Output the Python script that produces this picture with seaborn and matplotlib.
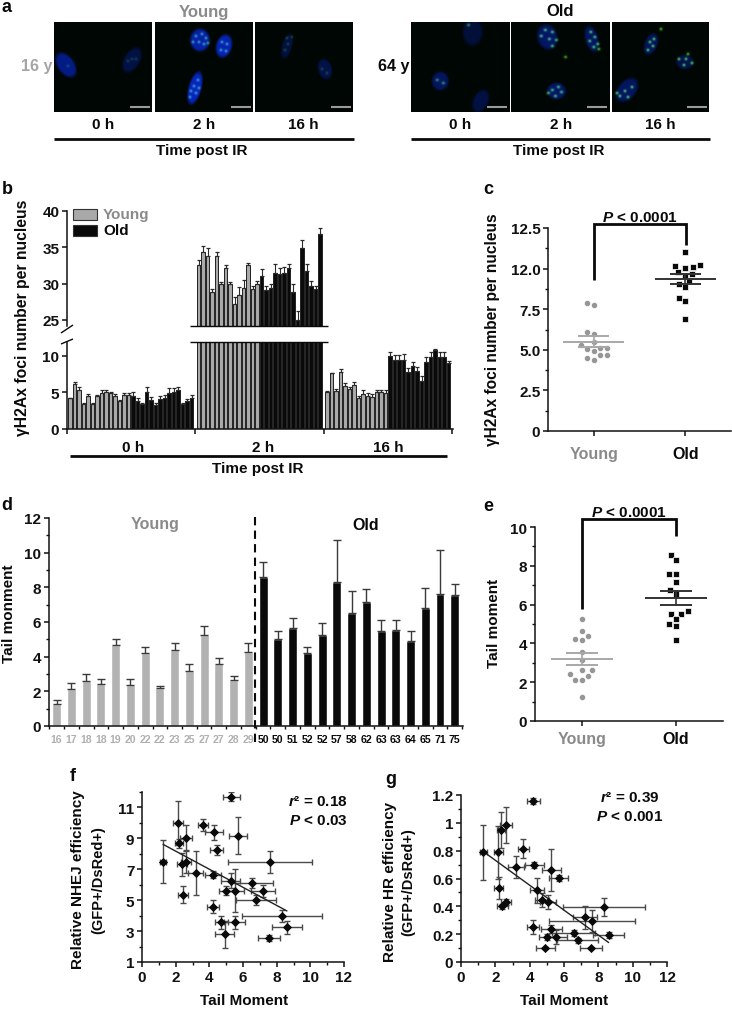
import numpy as np
import pandas as pd
import matplotlib
matplotlib.use("Agg")
import matplotlib.pyplot as plt
from matplotlib.lines import Line2D
from matplotlib.patches import Rectangle
import seaborn as sns

# ---------- data ----------
GROUPS_B = ["Young"] * 14 + ["Old"] * 14
b_0h = [4.2, 6.2, 5.3, 3.4, 4.5, 3.4, 4.5, 4.9, 5.0, 4.9, 4.5, 3.8, 4.7, 4.7,
        4.5, 3.8, 3.4, 5.1, 4.0, 3.3, 4.1, 4.2, 4.9, 5.1, 5.4, 3.4, 3.8, 4.3]
b_0h_err = [.1, .2, .4, .1, .3, .2, .1, .4, .4, .2, .3, .2, .2, .2,
            .5, .4, .2, .6, .4, .2, .4, .5, .7, .5, .3, .2, .3, .4]
b_2h = [32.6, 34.4, 33.8, 28.9, 33.8, 29.9, 32.1, 29.9, 27.2, 28.4, 29.4, 32.5, 29.2, 29.9,
        31.1, 29.1, 29.4, 31.5, 31.3, 31.5, 32.2, 28.9, 25.0, 34.9, 31.7, 29.7, 29.2, 36.9]
b_2h_err = [.6, .8, 1.1, .4, .6, .3, .5, .3, .9, 1.1, 1.1, .3, .5, .5,
            .9, .6, .5, 1.2, .8, .8, .5, 1.0, 1.3, 1.05, 1.0, .7, .5, .7]
b_16h = [5.1, 7.6, 5.2, 7.8, 5.9, 5.5, 6.0, 4.3, 4.8, 4.5, 4.4, 5.0, 5.0, 4.9,
         10.0, 9.5, 9.5, 9.5, 7.8, 8.6, 8.0, 6.6, 9.1, 9.8, 10.8, 9.9, 9.9, 9.0]
b_16h_err = [.05, .05, .3, .4, .4, .2, .4, .2, .5, .4, .4, .4, .4, .4,
             .6, .6, .6, .7, .5, .6, .5, .6, .7, .7, .2, .6, .6, .3]

c_young = [7.87, 7.73, 6.09, 5.98, 5.51, 5.14, 5.06, 5.12, 5.27, 4.9, 4.65, 4.69, 4.5, 4.39]
c_old = [11.05, 10.2, 10.06, 10.1, 10.14, 9.77, 9.67, 9.57, 9.22, 9.04, 8.85, 8.2, 8.03, 6.89]
c_mean = [5.51, 9.36]
c_sem = [0.31, 0.31]

d_ages = [16, 17, 18, 18, 19, 20, 22, 22, 23, 25, 27, 27, 28, 29,
          50, 50, 51, 52, 52, 57, 58, 62, 63, 63, 64, 65, 71, 75]
d_vals = [1.27, 2.13, 2.6, 2.42, 4.67, 2.37, 4.21, 2.17, 4.38, 3.19, 5.27, 3.6, 2.63, 4.25,
          8.58, 5.0, 5.67, 4.21, 5.25, 8.29, 6.54, 7.17, 5.5, 5.52, 4.88, 6.79, 7.62, 7.56]
d_err = [.23, .35, .4, .27, .35, .32, .33, .16, .43, .39, .52, .3, .27, .54,
         .9, .5, .56, .35, .69, 2.44, 1.25, .75, .62, .58, .58, 1.17, 2.55, .63]

e_young = [5.25, 4.66, 4.23, 4.2, 4.37, 3.58, 3.17, 2.62, 2.63, 2.41, 2.34, 2.13, 2.13, 1.26]
e_old = [8.55, 8.28, 7.6, 7.56, 7.16, 6.76, 6.54, 5.65, 5.49, 5.5, 5.25, 4.99, 4.89, 4.2]
e_mean = [3.2, 6.33]
e_sem = [0.32, 0.37]

f_x = [5.3, 2.16, 3.62, 4.28, 2.63, 5.7, 2.2, 4.44, 7.62, 1.25, 2.38, 2.63, 3.19, 4.22,
       5.27, 6.53, 7.19, 5.01, 5.54, 6.77, 2.44, 4.22, 8.32, 4.71, 5.5, 8.61, 4.91, 7.54]
f_y = [11.7, 9.99, 9.86, 9.39, 9.02, 9.17, 8.68, 8.25, 7.45, 7.5, 7.32, 7.5, 6.76, 6.66,
       6.27, 6.12, 5.58, 5.62, 5.62, 5.02, 5.34, 4.59, 3.97, 3.56, 3.56, 3.24, 2.78, 2.57]
f_xerr = [.5, .3, .3, .55, .35, .55, .25, .4, 2.5, .2, .3, .3, .45, .5,
          .55, 1.25, .7, .45, .5, 1.2, .3, .35, 2.4, .4, .6, .9, .55, .65]
f_yerr = [.3, 1.4, .4, .5, .85, 1.2, .3, .3, .7, 1.4, .75, .75, 1.4, .25,
          .5, .3, .4, .3, 1.4, .3, .55, .4, .4, .4, .4, .4, .9, .2]

g_x = [4.22, 2.63, 2.33, 1.3, 2.18, 3.64, 3.21, 4.26, 5.27, 5.68, 2.2, 4.42, 4.71, 5.06,
       2.63, 2.41, 8.33, 7.2, 7.65, 4.2, 5.27, 6.56, 8.6, 5.55, 5.0, 6.79, 4.9, 7.57]
g_y = [1.156, .987, .946, .787, .79, .815, .684, .698, .663, .603, .53, .517, .446, .434,
       .43, .40, .393, .32, .293, .253, .238, .207, .195, .179, .18, .155, .10, .10]
g_xerr = [.4, .35, .25, .2, .25, .3, .45, .55, .55, .55, .25, .4, .4, .45,
          .3, .3, 2.4, .7, 2.5, .35, .6, 1.25, .9, .6, .45, 1.2, .55, .65]
g_yerr = [.02, .13, .13, .2, .19, .07, .08, .02, .15, .02, .08, .09, .05, .05,
          .02, .02, .065, .08, .08, .05, .03, .02, .02, .05, .02, .02, .01, .01]

# microscopy panels: nuclei (cx, cy, w, h, angle, level) and foci (x, y) in picture pixels
img_boxes = [(54, 152), (155, 253), (255, 353), (411, 509), (511, 609), (612, 709)]
img_nuclei = [
    [(66, 66, 17, 28, -35, .6), (132, 61, 16, 28, 30, .3)],
    [(200, 41, 20, 23, 0, .75), (224, 47, 16, 24, 15, .8), (195, 89, 13, 34, 15, .85)],
    [(287, 47, 10, 26, 15, .28), (325, 70, 14, 21, -15, .32)],
    [(472, 33, 20, 28, 0, .25), (440, 82, 17, 19, 0, .42), (480, 102, 15, 24, 25, .3)],
    [(547, 38, 20, 26, -15, .45), (591, 40, 13, 27, -15, .42), (556, 92, 19, 17, 0, .45)],
    [(651, 45, 13, 23, 20, .38), (685, 63, 18, 15, 0, .32), (627, 91, 18, 28, 40, .42)],
]
img_foci = [
    ([(132, 60), (136, 60), (128, 62), (68, 67)], .15),
    ([(196, 37), (202, 35), (206, 39), (199, 43), (204, 45), (193, 43), (208, 44), (222, 43), (227, 45),
      (221, 51), (226, 52), (198, 81), (194, 87), (199, 89), (191, 92), (196, 94), (190, 98)], .42),
    ([(287, 39), (292, 38), (288, 45), (285, 51), (327, 74), (322, 70)], .18),
    ([(468, 26), (437, 81), (443, 84)], .45),
    ([(545, 31), (552, 33), (549, 40), (556, 41), (541, 37), (552, 47), (590, 33), (594, 38), (589, 42),
      (597, 45), (598, 50), (593, 48), (552, 91), (558, 88), (561, 93), (555, 97), (548, 94), (565, 58)], .6),
    ([(650, 43), (653, 47), (648, 51), (654, 40), (679, 60), (686, 60), (692, 64), (684, 66), (688, 55),
      (620, 97), (625, 92), (632, 88), (628, 98), (617, 94), (661, 30)], .6),
]

# ---------- style ----------
W, H = 732, 1012
sns.set_theme(style="ticks")
plt.rcParams.update({
    "font.family": ["Liberation Sans", "DejaVu Sans"],
    "font.weight": "bold",
    "axes.labelweight": "bold",
    "axes.linewidth": 1.1,
    "xtick.major.width": 1.1, "ytick.major.width": 1.1,
    "xtick.minor.width": 1.0, "ytick.minor.width": 1.0,
    "xtick.major.size": 3.5, "ytick.major.size": 3.5,
    "xtick.minor.size": 2.2, "ytick.minor.size": 2.2,
    "xtick.color": "#111111", "ytick.color": "#111111",
    "axes.edgecolor": "#111111",
    "mathtext.fontset": "custom",
    "mathtext.bfit": "Liberation Sans:italic:bold",
    "mathtext.bf": "Liberation Sans:bold",
    "mathtext.rm": "Liberation Sans:bold",
})
GRAY_BAR = "#a9a9a9"
GRAY_TXT = "#8a8a8a"
BLACK = "#0a0a0a"
FS = 11

fig = plt.figure(figsize=(W / 100, H / 100), dpi=100, facecolor="white")


def pax(x0, y0, x1, y1):
    """Axes from picture pixels (y down)."""
    ax = fig.add_axes([x0 / W, 1 - y1 / H, (x1 - x0) / W, (y1 - y0) / H])
    ax.set_facecolor("none")
    return ax


def T(x, y, s, size=FS, color=BLACK, ha="center", rot=0):
    fig.text(x / W, 1 - y / H, s, fontsize=size, color=color, ha=ha, va="center",
             rotation=rot, fontweight="bold")


def L(xs, ys, color=BLACK, lw=1.0, **kw):
    fig.add_artist(Line2D([x / W for x in xs], [1 - y / H for y in ys], color=color,
                          lw=lw, transform=fig.transFigure, solid_capstyle="butt", **kw))


def clean(ax):
    sns.despine(ax=ax)
    ax.tick_params(axis="both", labelsize=FS, pad=2)
    ax.set_xlabel("")
    ax.set_ylabel("")


# ---------- panel a ----------
for (x0, x1), nuclei, (foci, flev) in zip(img_boxes, img_nuclei, img_foci):
    y0, y1 = 23, 113
    gx, gy = np.meshgrid(np.arange(x0, x1) + .5, np.arange(y0, y1) + .5)
    rgb = np.zeros(gx.shape + (3,))
    rgb[..., 1] += .025
    rgb[..., 2] += .012
    for cx, cy, w, h, ang, lev in nuclei:
        t = np.radians(ang)
        dx, dy = gx - cx, gy - cy
        u = dx * np.cos(t) + dy * np.sin(t)
        v = -dx * np.sin(t) + dy * np.cos(t)
        d = (u / (w / 2)) ** 2 + (v / (h / 2)) ** 2
        m = np.clip((1.2 - d) / .6, 0, 1)
        rgb[..., 0] += m * lev * .03
        rgb[..., 1] += m * lev * .14
        rgb[..., 2] += m * lev * .85
    for fx, fy in foci:
        g = np.exp(-((gx - fx) ** 2 + (gy - fy) ** 2) / (2 * 1.1 ** 2)) * flev
        rgb[..., 0] += g * .4
        rgb[..., 1] += g * 1.0
        rgb[..., 2] += g * .2
    ax = pax(x0, y0, x1, y1)
    ax.imshow(np.clip(rgb, 0, 1), aspect="auto", interpolation="bilinear")
    ax.set_axis_off()
    L([x1 - 22, x1 - 2], [108, 108], color="#9a9a9a", lw=1.5)

T(204, 12, "Young", 12, GRAY_TXT)
T(560, 12, "Old", 12)
T(52, 66, "16 y", 11.5, "#a5a5a5", ha="right")
T(409, 66, "64 y", 11.5, BLACK, ha="right")
for cx, s in zip([103, 204, 303, 460, 561, 660], ["0 h", "2 h", "16 h"] * 2):
    T(cx, 125, s, 11)
L([54, 354], [139.5, 139.5], lw=2.0)
L([411, 710], [139.5, 139.5], lw=2.0)
T(202, 151, "Time post IR", 11)
T(559, 151, "Time post IR", 11)

# ---------- panel b ----------
GAP = 28.55
df_b = pd.DataFrame({
    "pos": [g * GAP + j for g in range(3) for j in range(28)],
    "value": b_0h + b_2h + b_16h,
    "err": b_0h_err + b_2h_err + b_16h_err,
    "group": GROUPS_B * 3,
})
xl_b = (-0.67, 85.1)
tick_b = [g * GAP - 0.7 for g in range(4)]
pal = {"Young": GRAY_BAR, "Old": BLACK}
ax_top = pax(67, 212, 453, 327)
ax_low = pax(67, 343, 453, 430)
for ax, yl in [(ax_top, (24.17, 40)), (ax_low, (0, 11.9))]:
    sns.barplot(data=df_b, x="pos", y="value", hue="group", palette=pal, native_scale=True,
                dodge=False, width=.82, errorbar=None, legend=False, ax=ax,
                edgecolor="#222222", linewidth=.7)
    ax.errorbar(df_b["pos"], df_b["value"], yerr=[np.zeros(len(df_b)), df_b["err"]], fmt="none",
                ecolor="#2a2a2a", elinewidth=.8, capsize=1.6, capthick=.9)
    ax.set_xlim(*xl_b)
    ax.set_ylim(*yl)
    clean(ax)
ax_top.set_yticks([25, 30, 35, 40])
ax_low.set_yticks([0, 5, 10])
ax_top.spines["bottom"].set_visible(False)
ax_top.set_xticks([])
ax_low.set_xticks(tick_b)
ax_low.set_xticklabels([])
L([190, 328], [327, 327], lw=1.0)
L([190, 328], [343, 343], lw=1.0)
L([61, 73], [334, 326], lw=1.0)
L([61, 73], [345, 340], lw=1.0)
T(23, 318, "γH2Ax foci number per nucleus", 11.3, rot=90)
for cx, s in zip([133, 263, 388], ["0 h", "2 h", "16 h"]):
    T(cx, 448, s, 11)
L([70, 447], [457, 457], lw=2.0)
T(258, 469, "Time post IR", 11)
for y0, col, lab, tc in [(210, GRAY_BAR, "Young", GRAY_TXT), (226, BLACK, "Old", BLACK)]:
    fig.add_artist(Rectangle((73 / W, 1 - (y0 + 11) / H), 24 / W, 11 / H, facecolor=col,
                             edgecolor="#333333", lw=.8, transform=fig.transFigure))
    T(103, y0 + 5, lab, 11, tc, ha="left")


# ---------- panels c, e ----------
def dotpanel(box, young, old, mean, sem, ylim, yticks, yticklabels, minor, hw, cw, lab_pad):
    ax = pax(*box)
    df = pd.DataFrame({"group": ["Young"] * len(young) + ["Old"] * len(old), "value": young + old})
    sns.swarmplot(data=df[df.group == "Young"], x="group", y="value", order=["Young", "Old"],
                  color="#969696", size=4.5, marker="o", edgecolor="white", linewidth=.5, ax=ax)
    sns.swarmplot(data=df[df.group == "Old"], x="group", y="value", order=["Young", "Old"],
                  color=BLACK, size=4.5, marker="s", edgecolor="white", linewidth=.5, ax=ax)
    for i, col in enumerate(["#a8a8a8", "#333333"]):
        ax.hlines(mean[i], i - hw, i + hw, color=col, lw=1.4, zorder=5)
        ax.hlines([mean[i] - sem[i], mean[i] + sem[i]], i - cw, i + cw, color=col, lw=1.4, zorder=5)
        ax.vlines(i, mean[i] - sem[i], mean[i] + sem[i], color=col, lw=1.2, zorder=5)
    ax.set_xlim(-.5, 1.5)
    ax.set_ylim(*ylim)
    clean(ax)
    ax.set_yticks(yticks)
    ax.set_yticklabels(yticklabels)
    ax.set_yticks(minor, minor=True)
    ax.set_xticks([0, 1])
    ax.set_xticklabels(["Young", "Old"], fontsize=11.5)
    ax.tick_params(axis="x", pad=lab_pad)
    ax.get_xticklabels()[0].set_color(GRAY_TXT)
    ax.get_xticklabels()[1].set_color(BLACK)
    return ax


ax_c = dotpanel((548, 229, 731, 432), c_young, c_old, c_mean, c_sem, (0, 12.5),
                [0, 2.5, 5, 7.5, 10, 12.5], ["0", "2.5", "5.0", "7.5", "12.0", "12.5"],
                [1.25, 3.75, 6.25, 8.75, 11.25], .335, .167, 7)
ax_e = dotpanel((535, 528, 723, 722), e_young, e_old, e_mean, e_sem, (0, 10),
                [0, 2, 4, 6, 8, 10], ["0", "2", "4", "6", "8", "10"],
                [1, 3, 5, 7, 9], .33, .17, 4)
L([594, 594, 686, 686], [281, 225, 225, 246], lw=2.0, solid_joinstyle="miter")
L([582, 582, 676, 676], [610, 520, 520, 537], lw=2.0, solid_joinstyle="miter")
T(640, 218, r"$\mathbfit{P}$ < 0.0001", 11)
T(629, 513, r"$\mathbfit{P}$ < 0.0001", 11)
T(492, 330, "γH2Ax foci number per nucleus", 11.2, rot=90)
T(494, 623, "Tail moment", 11, rot=90)

# ---------- panel d ----------
df_d = pd.DataFrame({"idx": np.arange(28), "value": d_vals, "err": d_err,
                     "group": GROUPS_B})
ax_d = pax(49, 519, 463, 727)
sns.barplot(data=df_d, x="idx", y="value", hue="group", palette={"Young": "#b2b2b2", "Old": BLACK},
            dodge=False, width=.61, errorbar=None, legend=False, ax=ax_d)
ax_d.errorbar(df_d["idx"], df_d["value"], yerr=[np.zeros(28), df_d["err"]], fmt="none",
              ecolor="#3a3a3a", elinewidth=1.0, capsize=3.1, capthick=1.0)
ax_d.set_xlim(-.52, 27.56)
ax_d.set_ylim(0, 12)
clean(ax_d)
ax_d.set_yticks(range(0, 13, 2))
ax_d.set_yticks(range(1, 12, 2), minor=True)
ax_d.set_xticks(np.arange(28))
ax_d.set_xticklabels([str(a) for a in d_ages], fontsize=7.6)
ax_d.tick_params(axis="x", which="major", length=0, pad=6)
ax_d.set_xticks(np.arange(29) - .5, minor=True)
for i, lab in enumerate(ax_d.get_xticklabels()):
    lab.set_color("#b0b0b0" if i < 14 else BLACK)
L([255.3, 255.3], [518, 745], lw=1.5, linestyle=(0, (4, 2.5)))
T(155, 525, "Young", 11.5, GRAY_TXT)
T(366, 525, "Old", 11.5)
T(9, 614, "Tail monment", 11, rot=90)


# ---------- panels f, g ----------
def fitpanel(box, x, y, xerr, yerr, ylim, yticks, yticklabels, minor):
    ax = pax(*box)
    ax.errorbar(x, y, xerr=xerr, yerr=yerr, fmt="none", ecolor="#4a4a4a", elinewidth=1.0,
                capsize=1.9, capthick=1.0, zorder=2)
    sns.regplot(x=np.array(x), y=np.array(y), scatter=False, ci=None, ax=ax,
                line_kws={"color": "#222222", "lw": 1.0, "zorder": 3})
    sns.scatterplot(x=x, y=y, marker="D", s=22, color=BLACK, linewidth=0, ax=ax, zorder=4)
    ax.set_xlim(0, 12)
    ax.set_ylim(*ylim)
    clean(ax)
    ax.set_xticks(range(0, 13, 2))
    ax.set_xticks(range(1, 12, 2), minor=True)
    ax.set_yticks(yticks)
    ax.set_yticklabels(yticklabels)
    ax.set_yticks(minor, minor=True)
    return ax


ax_f = fitpanel((142, 793, 344, 963), f_x, f_y, f_xerr, f_yerr, (1, 12),
                [1, 3, 5, 7, 9, 11], ["1", "3", "5", "7", "9", "11"], [2, 4, 6, 8, 10, 12])
ax_g = fitpanel((461, 796, 667, 963), g_x, g_y, g_xerr, g_yerr, (0, 1.2),
                [0, .2, .4, .6, .8, 1, 1.2], ["0", "0.2", "0.4", "0.6", "0.8", "1", "1.2"],
                [.1, .3, .5, .7, .9, 1.1])
T(318, 802, r"$\mathbfit{r}$² = 0.18", 11)
T(318, 821, r"$\mathbfit{P}$ < 0.03", 11)
T(630, 798, r"$\mathbfit{r}$² = 0.39", 11)
T(630, 817, r"$\mathbfit{P}$ < 0.001", 11)
T(78, 880, "Relative NHEJ efficiency", 11, rot=90)
T(98, 880, "(GFP+/DsRed+)", 10.5, rot=90)
T(390, 882, "Relative HR efficiency", 11, rot=90)
T(408, 882, "(GFP+/DsRed+)", 10.5, rot=90)
T(244, 1001, "Tail Moment", 11)
T(564, 1001, "Tail Moment", 11)

# ---------- panel letters ----------
for x, y, s in [(6, 7, "a"), (7, 189, "b"), (488, 190, "c"), (7, 506, "d"),
                (488, 507, "e"), (73, 777, "f"), (391, 780, "g")]:
    T(x, y, s, 13)

fig.savefig("out.png", dpi=100, facecolor="white")
